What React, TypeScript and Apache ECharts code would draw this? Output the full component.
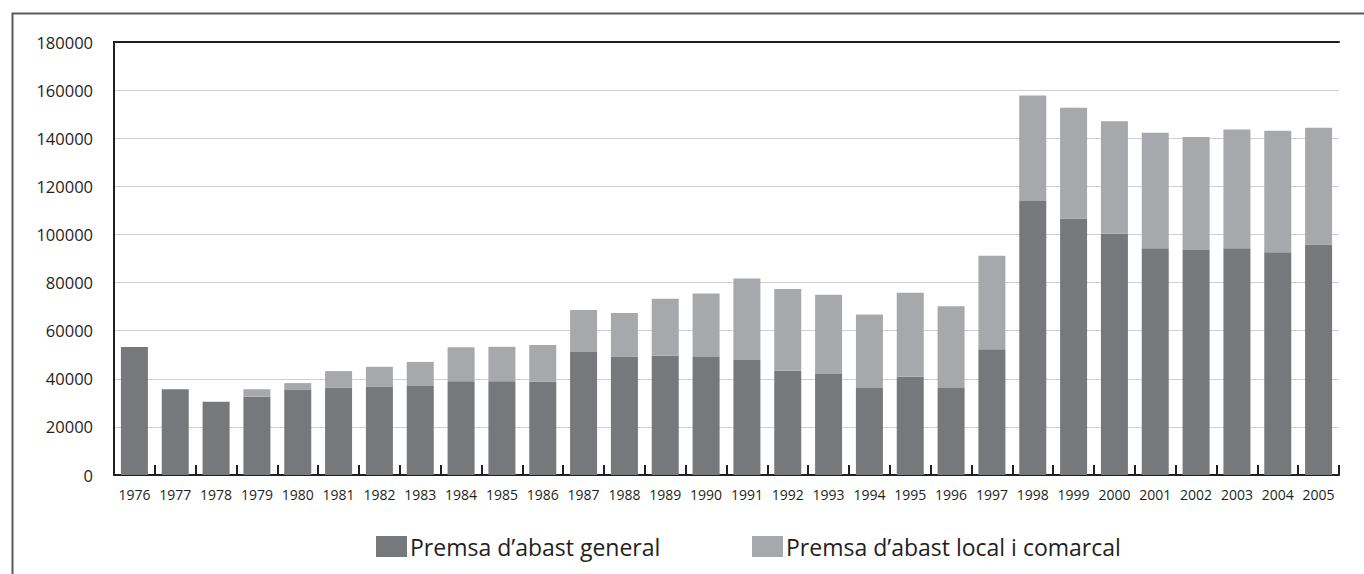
import React, { useEffect, useRef } from "react";
import * as echarts from "echarts";

const years = ["1976","1977","1978","1979","1980","1981","1982","1983","1984","1985","1986","1987","1988","1989","1990","1991","1992","1993","1994","1995","1996","1997","1998","1999","2000","2001","2002","2003","2004","2005"];

const general = [53200,35600,30500,32500,35300,36400,36600,37000,39000,39000,38800,51100,49300,49600,49100,47800,43300,42000,36200,40800,36200,52300,113900,106600,100300,94300,93500,94300,92600,95800];

const local = [0,0,0,3100,2900,6800,8400,10000,14100,14300,15200,17500,18000,23700,26400,33900,34000,32900,30500,35000,34000,38800,43900,46100,46800,48000,47000,49300,50500,48600];

const yTicks = { min: 0, max: 180000, interval: 20000 };

const seriesNames = ["Premsa d\u2019abast general", "Premsa d\u2019abast local i comarcal"];
const colors = ["#77787b", "#a7a8ab"];

const FONT = "'Open Sans', 'Noto Sans', sans-serif";
const INK = "#231f20";

export default function App() {
  const ref = useRef<HTMLDivElement>(null);
  useEffect(() => {
    if (!ref.current) return;
    const chart = echarts.init(ref.current, null, { renderer: "svg" });
    const legendBase = {
      top: 535,
      padding: 0,
      itemWidth: 31,
      itemHeight: 21,
      icon: "rect",
      textStyle: { fontFamily: FONT, fontSize: 23, color: INK, padding: [0, 0, 0, -2] },
    };
    chart.setOption({
      animation: false,
      backgroundColor: "#ffffff",
      textStyle: { fontFamily: FONT, color: INK },
      grid: { left: 114, right: 25, top: 42, bottom: 99 },
      graphic: [
        {
          type: "rect",
          silent: true,
          shape: { x: 12.5, y: 13.5, width: 1400, height: 700 },
          style: { fill: "none", stroke: "#5a5a5a", lineWidth: 2 },
        },
      ],
      legend: [
        { ...legendBase, left: 376, data: [seriesNames[0]] },
        { ...legendBase, left: 752, data: [seriesNames[1]] },
      ],
      xAxis: [
        {
          type: "category",
          data: years,
          boundaryGap: true,
          axisLine: { show: true, lineStyle: { color: INK, width: 2 } },
          axisTick: { show: true, inside: true, length: 10, lineStyle: { color: INK, width: 2 } },
          axisLabel: { fontFamily: FONT, fontSize: 14, color: INK, margin: 12, interval: 0 },
          splitLine: { show: false },
        },
        {
          type: "category",
          data: years,
          position: "top",
          axisLine: { show: true, onZero: false, lineStyle: { color: INK, width: 2 } },
          axisTick: { show: false },
          axisLabel: { show: false },
          splitLine: { show: false },
        },
      ],
      yAxis: {
        type: "value",
        min: yTicks.min,
        max: yTicks.max,
        interval: yTicks.interval,
        axisLine: { show: true, lineStyle: { color: INK, width: 2 } },
        axisTick: { show: false },
        axisLabel: {
          fontFamily: FONT,
          fontSize: 16.5,
          color: INK,
          margin: 21,
          formatter: (v: number) => String(v),
        },
        splitLine: { show: true, lineStyle: { color: "#cfcfcf", width: 1 } },
      },
      series: [
        {
          name: seriesNames[0],
          type: "bar",
          stack: "total",
          data: general,
          barWidth: 27,
          itemStyle: { color: colors[0] },
        },
        {
          name: seriesNames[1],
          type: "bar",
          stack: "total",
          data: local,
          barWidth: 27,
          itemStyle: { color: colors[1] },
        },
      ],
    });
    return () => chart.dispose();
  }, []);
  return (
    <div
      ref={ref}
      style={{ position: "absolute", left: 0, top: 0, width: 1364, height: 574 }}
    />
  );
}
